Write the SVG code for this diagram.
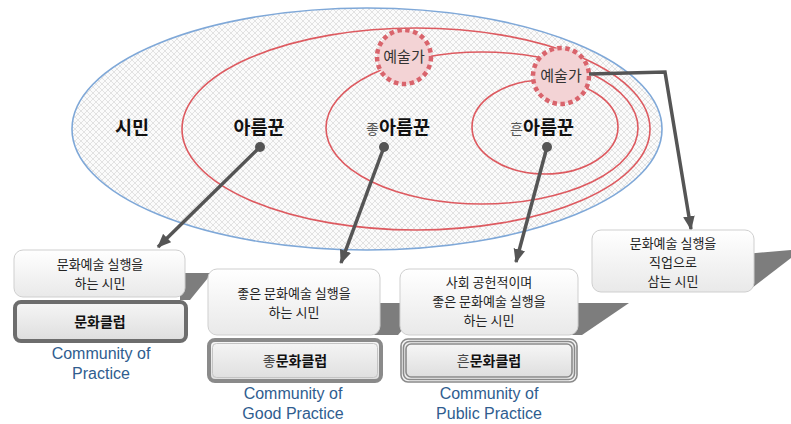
<svg xmlns="http://www.w3.org/2000/svg" width="791" height="424" viewBox="0 0 791 424">
<defs>
<style>
.k{font-family:"Noto Sans CJK KR","Noto Sans",sans-serif;}
.big{font-size:18.5px;font-weight:bold;fill:#111;}
.sm{font-size:14px;font-weight:normal;fill:#555;}
.art{font-size:15px;fill:#333;}
.bt{font-size:13px;fill:#222;}
.club{font-size:14px;font-weight:bold;fill:#111;}
.com{font-family:"Liberation Sans",Arial,sans-serif;font-size:16px;fill:#2f5d8f;}
.red{fill:none;stroke:#dd5a60;stroke-width:1.6;}
.conn{fill:none;stroke:#555;stroke-width:3.5;}
.box{fill:url(#bg);stroke:#cfcfcf;stroke-width:1;}
.shd{fill:#7d7d7d;}
.circ{fill:#f3d3d5;stroke:#d9646c;stroke-width:4.5;stroke-dasharray:4.5 3.5;}
</style>
<pattern id="hatch" patternUnits="userSpaceOnUse" width="6" height="6">
<rect width="6" height="6" fill="#fbfbfb"/>
<path d="M0,0 L6,6 M6,0 L0,6" stroke="#d2d2d2" stroke-width="0.6"/>
</pattern>
<linearGradient id="bg" x1="0" y1="0" x2="0" y2="1">
<stop offset="0" stop-color="#ffffff"/>
<stop offset="1" stop-color="#e9e9e9"/>
</linearGradient>
<linearGradient id="cg" x1="0" y1="0" x2="0" y2="1">
<stop offset="0" stop-color="#f6f6f6"/>
<stop offset="1" stop-color="#dedede"/>
</linearGradient>
<marker id="ah" viewBox="0 0 12 10" markerUnits="userSpaceOnUse" markerWidth="14" markerHeight="12" refX="11" refY="5" orient="auto">
<path d="M0,0 L12,5 L0,10 z" fill="#555"/>
</marker>
</defs>
<rect width="791" height="424" fill="#ffffff"/>

<g id="citizen">
<ellipse cx="367" cy="129" rx="295" ry="121" fill="url(#hatch)" stroke="#7fa8d8" stroke-width="1.6"/>
<text class="k big" x="132" y="134" text-anchor="middle">시민</text>
</g>
<g id="amateur">
<ellipse cx="416" cy="129" rx="234" ry="101" fill="#ffffff" class="red"/>
<text class="k big" x="259" y="134" text-anchor="middle">아름꾼</text>
</g>
<g id="good-amateur">
<ellipse cx="482" cy="128" rx="156" ry="76" class="red"/>
<text class="k big" x="398" y="134" text-anchor="middle"><tspan class="sm">좋</tspan>아름꾼</text>
</g>
<g id="public-amateur">
<ellipse cx="545" cy="127" rx="73" ry="47" class="red"/>
<text class="k big" x="542" y="134" text-anchor="middle"><tspan class="sm">흔</tspan>아름꾼</text>
</g>
<g id="artist1">
<circle cx="404" cy="57" r="27" class="circ"/>
<text class="k art" x="404" y="62" text-anchor="middle">예술가</text>
</g>
<g id="artist2">
<circle cx="561" cy="76" r="28" class="circ"/>
<text class="k art" x="561" y="81" text-anchor="middle">예술가</text>
</g>

<g id="shadows">
<polygon class="shd" points="180,273 212,273 190,300 180,300"/>
<polygon class="shd" points="372,303 425,303 398,335 372,335"/>
<polygon class="shd" points="570,303 629,303 582,335 570,335"/>
<polygon class="shd" points="745,254 791,250 791,258 748,291 745,291"/>
</g>

<g id="box-a">
<rect class="box" x="14" y="250" width="171" height="47" rx="9"/>
<text class="k bt" x="100" y="269" text-anchor="middle">문화예술 실행을</text>
<text class="k bt" x="100" y="288" text-anchor="middle">하는 시민</text>
</g>
<g id="box-b">
<rect class="box" x="208" y="269" width="172" height="66" rx="9"/>
<text class="k bt" x="294" y="298" text-anchor="middle">좋은 문화예술 실행을</text>
<text class="k bt" x="294" y="317" text-anchor="middle">하는 시민</text>
</g>
<g id="box-c">
<rect class="box" x="400" y="269" width="178" height="66" rx="9"/>
<text class="k bt" x="489" y="287" text-anchor="middle">사회 공헌적이며</text>
<text class="k bt" x="489" y="306" text-anchor="middle">좋은 문화예술 실행을</text>
<text class="k bt" x="489" y="325" text-anchor="middle">하는 시민</text>
</g>
<g id="box-d">
<rect class="box" x="592" y="230" width="162" height="62" rx="9"/>
<text class="k bt" x="673" y="248" text-anchor="middle">문화예술 실행을</text>
<text class="k bt" x="673" y="267" text-anchor="middle">직업으로</text>
<text class="k bt" x="673" y="286" text-anchor="middle">삼는 시민</text>
</g>

<g id="club-a">
<rect x="15" y="302" width="171" height="39" rx="6" fill="url(#cg)" stroke="#6d6d6d" stroke-width="4"/>
<text class="k club" x="100" y="327" text-anchor="middle">문화클럽</text>
<text class="com" x="101" y="359" text-anchor="middle">Community of</text>
<text class="com" x="101" y="379" text-anchor="middle">Practice</text>
</g>
<g id="club-b">
<rect x="209" y="340" width="172" height="41" rx="6" fill="url(#cg)" stroke="#8a8a8a" stroke-width="4"/>
<rect x="212.5" y="343.5" width="165" height="34" rx="4" fill="none" stroke="#c4c4c4" stroke-width="1"/>
<text class="k club" x="295" y="366" text-anchor="middle"><tspan font-weight="normal" fill="#444">좋</tspan>문화클럽</text>
<text class="com" x="293" y="399" text-anchor="middle">Community of</text>
<text class="com" x="293" y="419" text-anchor="middle">Good Practice</text>
</g>
<g id="club-c">
<rect x="401" y="339" width="176" height="43" rx="7" fill="#f2f2f2" stroke="#8a8a8a" stroke-width="1.6"/>
<rect x="403.5" y="341.5" width="171" height="38" rx="6" fill="none" stroke="#8a8a8a" stroke-width="1.6"/>
<rect x="406" y="344" width="166" height="33" rx="5" fill="url(#cg)" stroke="#8a8a8a" stroke-width="1.6"/>
<text class="k club" x="489" y="366" text-anchor="middle"><tspan font-weight="normal" fill="#444">흔</tspan>문화클럽</text>
<text class="com" x="489" y="399" text-anchor="middle">Community of</text>
<text class="com" x="489" y="419" text-anchor="middle">Public Practice</text>
</g>

<g id="connectors">
<line class="conn" x1="260" y1="147" x2="158" y2="247" marker-end="url(#ah)"/>
<line class="conn" x1="384" y1="147" x2="341" y2="263" marker-end="url(#ah)"/>
<line class="conn" x1="547" y1="147" x2="516" y2="262" marker-end="url(#ah)"/>
<polyline class="conn" points="589,74 665,72 691,229" marker-end="url(#ah)"/>
<circle cx="260" cy="147" r="5" fill="#555"/>
<circle cx="384" cy="147" r="5" fill="#555"/>
<circle cx="547" cy="147" r="5" fill="#555"/>
</g>
</svg>
